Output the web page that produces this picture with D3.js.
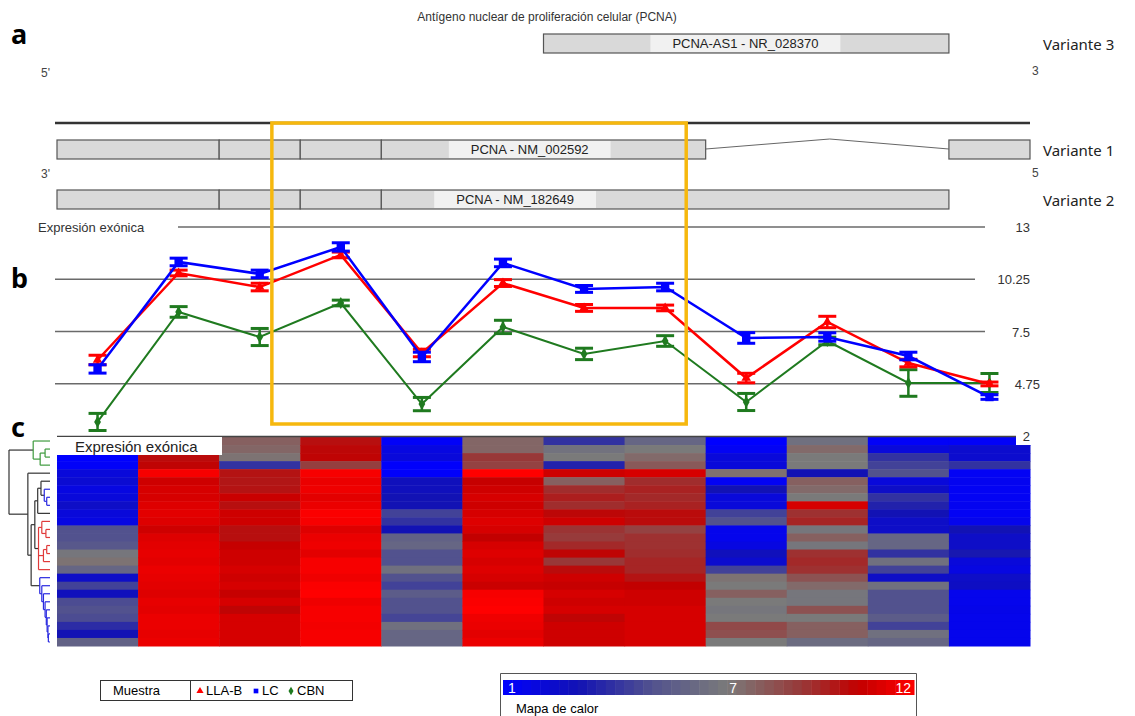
<!DOCTYPE html>
<html>
<head>
<meta charset="utf-8">
<script src="https://cdn.jsdelivr.net/npm/d3@7"></script>
<style>
  body { margin: 0; background: #fff; }
  svg { display: block; font-family: "Liberation Sans", Arial, sans-serif; }
</style>
</head>
<body>
<svg id="fig" width="1135" height="716"></svg>
<script>
//// DATA

const EXONS = ["E1","E2","E3","E4","E5","E6","E7","E8","E9","E10","E11","E12"];
const Y_TICKS = [13, 10.25, 7.5, 4.75, 2];

// expresion exonica por grupo (media y error)
const LC        = [5.53, 11.16, 10.53, 11.95, 6.16, 11.11, 9.74, 9.84, 7.16, 7.21, 6.21, 4.05];
const LC_ERR    = [0.22, 0.2, 0.2, 0.22, 0.25, 0.2, 0.18, 0.2, 0.28, 0.22, 0.2, 0.12];
const LLA_B     = [6.0, 10.58, 9.84, 11.53, 6.37, 10.05, 8.74, 8.74, 5.05, 8.0, 5.84, 4.74];
const LLA_B_ERR = [0.25, 0.15, 0.2, 0.15, 0.2, 0.18, 0.18, 0.15, 0.25, 0.3, 0.2, 0.1];
const CBN       = [2.74, 8.53, 7.21, 9.0, 3.68, 7.74, 6.32, 7.0, 3.79, 7.0, 4.79, 4.79];
const CBN_ERR   = [0.45, 0.28, 0.45, 0.15, 0.35, 0.35, 0.3, 0.28, 0.45, 0.2, 0.7, 0.5];

// mapa de calor: una lista por exon, 26 muestras (filas) cada una
const HEAT_E1  = [1.5,1.5,1.0,1.2,2,2.2,1.8,2,2.5,2,1.8,5,5,5.3,6.8,7.2,6,2.5,4.5,2.8,4.8,5,4.8,3.8,3,5.8];
const HEAT_E2  = [9.5,9.5,10.2,10.4,11.8,10.8,11,11,11.2,11.3,11.2,10.8,11.2,11.3,11.4,11.3,11.5,11.4,11.3,11.2,11.4,11.3,11.5,11.5,11.4,11.5];
const HEAT_E3  = [7.8,7.6,7.2,4,10,9.9,10,10.7,10.1,10.8,10.8,10.1,10.1,10.6,10.8,10.8,11,10.8,11,10.6,11,10.4,11,11,11,11];
const HEAT_E4  = [10.1,10.3,10.4,8.8,11.8,11.5,11.6,11.3,11.5,11.9,11.8,11.2,11.5,11.6,11.3,11.8,11.8,11.6,11.9,12,11.6,11.8,11.8,11.7,11.8,11.8];
const HEAT_E5  = [1.2,1.8,2,1.1,1.1,2.8,2.8,3,3,4.5,4,3,5.8,6,5,5,6.5,5,4.5,5.5,5,5,4.6,6.5,6,6];
const HEAT_E6  = [7.6,7.6,9,8.7,12,10.6,10.8,11,10.8,11,11.2,11,10.5,11,11.2,11,11.2,11,10.7,11.8,11.9,12,11.6,11.5,11.3,11.5];
const HEAT_E7  = [4,6.6,7,3.5,10.8,7.8,9.3,9.7,9.3,10.3,10.8,9.1,8.9,9.4,10.4,9,10.2,10.8,10.6,11,10.8,11,10.4,10.8,10.8,10.8];
const HEAT_E8  = [6,7,7.5,8,11,9.3,9.6,9.4,9.6,10.2,10.2,8.7,9.2,9.2,9.3,9.5,9.5,10,10.5,10.8,10.8,11,11,11,11,11];
const HEAT_E9  = [1,1.3,2,2,7.3,1.3,3,2,2,4.5,5,1.5,1.5,1.8,2.8,2.3,4.5,7.2,7,7.8,7,6.8,7,8.5,8.3,7];
const HEAT_E10 = [6.5,7.5,7,7,3,7.8,7.5,7,11,9.2,9.5,6.8,7.8,6.8,9.2,9.4,9.2,8.2,7.5,6.8,6.8,8.2,7,7.8,7.8,6.3];
const HEAT_E11 = [1.2,2,4,4.5,5,2,2.5,4,3.5,3,2.5,2.5,6,6,4,6.5,4.5,2.5,6.5,5,5,5,5.5,4.5,6.5,6];
const HEAT_E12 = [1.2,2.3,2.3,4,1.3,1.4,1.3,1.3,1.4,1.3,1.5,3,2.5,2.5,3.2,2,1.8,2.5,2.6,1.5,1.5,1.6,1.5,1.5,1.5,1.5];
const HEAT = [HEAT_E1,HEAT_E2,HEAT_E3,HEAT_E4,HEAT_E5,HEAT_E6,HEAT_E7,HEAT_E8,HEAT_E9,HEAT_E10,HEAT_E11,HEAT_E12];

// grupo de cada muestra (fila) y dendrograma (hojas = indice de fila, h = distancia)
const SAMPLE_GROUP = ["CBN","CBN","CBN","CBN","LC","LLA-B","LC","LC","LC","LLA-B",
  "LLA-B","LLA-B","LLA-B","LLA-B","LLA-B","LLA-B","LLA-B",
  "LC","LC","LC","LC","LC","LC","LC","LC","LC"];
const DENDRO = {h: 10, c: [
  {h: 4.1, c: [0, {h: 2.4, c: [{h: 1.2, c: [1, 2]}, 3]}]},
  {h: 5.4, c: [4, {h: 4.6, c: [
    {h: 3.7, c: [
      {h: 3.0, c: [{h: 2.2, c: [5, {h: 1.4, c: [6, {h: 0.8, c: [7, 8]}]}]}, 9]},
      {h: 2.8, c: [{h: 2.0, c: [10, {h: 1.0, c: [11, 12]}]}, {h: 1.6, c: [{h: 0.8, c: [13, 14]}, 15]}, 16]}
    ]},
    {h: 2.5, c: [17, {h: 2.0, c: [18, {h: 1.6, c: [19, {h: 1.2, c: [20, {h: 0.9, c: [21,
      {h: 0.7, c: [22, {h: 0.5, c: [23, {h: 0.4, c: [24, 25]}]}]}]}]}]}]}]}
  ]}]}
]};

// modelo genico en unidades de exon (0..12)
const VAR1_EXONS = [[0,2],[2,3],[3,4],[4,8],[11,12]];
const VAR1_INTRON = [8, 9.53, 11];
const VAR2_EXONS = [[0,2],[2,3],[3,4],[4,11]];
const VAR3_EXONS = [[6,11]];
const HEAT_LEGEND_TICKS = [1, 7, 12];

//// LAYOUT

const GROUP_COLORS = {"LLA-B": "#ff0000", "LC": "#0000ff", "CBN": "#1f7a1f"};
const DENDRO_COLORS = {"LLA-B": "#e03a3a", "LC": "#2a2ae0", "CBN": "#3e9a3e"};
const LEFT = 57, RIGHT = 1030;

const heatColor = d3.scaleLinear()
  .domain([1, 3, 5, 7, 9, 10.5, 12])
  .range(["#0000ff", "#1212b4", "#52528e", "#7a7a7a", "#983838", "#c20000", "#ff0000"])
  .clamp(true);

const svg = d3.select("#fig");
const xBand = d3.scaleBand().domain(EXONS).range([LEFT, RIGHT]);
const gx = d3.scaleLinear().domain([0, 12]).range([LEFT, RIGHT]);
const y = d3.scaleLinear().domain([2, 13]).range([436, 227]);
const rowY = d3.scaleBand().domain(d3.range(26)).range([437, 646]);

const panelLetter = (txt, ly) => svg.append("text")
  .attr("x", 11).attr("y", ly)
  .style("font-family", "'Noto Sans', sans-serif")
  .style("font-weight", "bold").style("font-size", "27px")
  .text(txt);

//////////////// a: MODELO GENICO

const renderGeneModel = () => {
  const g = svg.append("g");
  g.append("text").attr("x", 547).attr("y", 21).attr("text-anchor", "middle")
    .style("font-size", "12px").attr("fill", "#333")
    .text("Antígeno nuclear de proliferación celular (PCNA)");

  const drawTranscript = (exons, top, label, labelPos, name) => {
    const h = 19;
    g.selectAll(null).data(exons).enter().append("rect")
      .attr("x", d => gx(d[0])).attr("y", top)
      .attr("width", d => gx(d[1]) - gx(d[0])).attr("height", h)
      .attr("fill", "#d9d9d9").attr("stroke", "#555").attr("stroke-width", 1.2);
    const t = g.append("text").attr("x", gx(labelPos)).attr("y", top + 14)
      .attr("text-anchor", "middle").style("font-size", "13px").attr("fill", "#222")
      .text(label);
    const bb = t.node().getBBox();
    g.insert("rect", () => t.node())
      .attr("x", bb.x - 22).attr("y", top + 1).attr("width", bb.width + 44).attr("height", h - 2)
      .attr("fill", "#f1f1f1");
    g.append("text").attr("x", 1043).attr("y", top + 16)
      .style("font-family", "'Noto Sans', sans-serif").style("font-size", "15px").attr("fill", "#222")
      .text(name);
  };

  drawTranscript(VAR3_EXONS, 34, "PCNA-AS1 - NR_028370", 8.49, "Variante 3");

  g.append("line").attr("x1", 55).attr("x2", RIGHT).attr("y1", 123).attr("y2", 123)
    .attr("stroke", "#333").attr("stroke-width", 2.5);

  g.append("polyline")
    .attr("points", [[gx(VAR1_INTRON[0]), 149], [gx(VAR1_INTRON[1]), 139], [gx(VAR1_INTRON[2]), 149]].join(" "))
    .attr("fill", "none").attr("stroke", "#666").attr("stroke-width", 1);
  drawTranscript(VAR1_EXONS, 140, "PCNA - NM_002592", 5.83, "Variante 1");
  drawTranscript(VAR2_EXONS, 190, "PCNA - NM_182649", 5.65, "Variante 2");

  [["5'", 41, 77], ["3", 1032, 75], ["3'", 41, 178], ["5", 1032, 177]].forEach(([t, tx, ty]) => {
    g.append("text").attr("x", tx).attr("y", ty).style("font-size", "12px").attr("fill", "#444").text(t);
  });
};

//////////////// b: EXPRESION EXONICA

const renderLines = () => {
  const g = svg.append("g");
  Y_TICKS.forEach(v => {
    if (v === 2) return;
    const x1 = v === 13 ? 178 : 55;
    g.append("line").attr("x1", x1).attr("x2", v === 10.25 ? 975 : 985)
      .attr("y1", y(v)).attr("y2", y(v)).attr("stroke", "#6a6a6a").attr("stroke-width", 1.6);
  });
  // fondo blanco del "2" sobre el mapa de calor
  g.append("rect").attr("x", 1016).attr("y", y(2) - 8).attr("width", 17).attr("height", 17).attr("fill", "#fff");
  g.selectAll(".tick-label").data(Y_TICKS).enter().append("text")
    .attr("class", "tick-label")
    .attr("x", d => d === 4.75 ? 1040 : 1030).attr("y", d => y(d) + 5)
    .attr("text-anchor", "end").style("font-size", "13px").attr("fill", "#333")
    .text(d => d);
  g.append("text").attr("x", 38).attr("y", y(13) + 5).style("font-size", "13px").attr("fill", "#333")
    .text("Expresión exónica");

  const cx = i => xBand(EXONS[i]) + xBand.bandwidth() / 2;
  const series = [
    {name: "CBN", v: CBN, e: CBN_ERR, sym: d3.symbolDiamond, w: 2},
    {name: "LLA-B", v: LLA_B, e: LLA_B_ERR, sym: d3.symbolTriangle, w: 2.5},
    {name: "LC", v: LC, e: LC_ERR, sym: d3.symbolSquare, w: 2.5}
  ];
  const line = d3.line().x((d, i) => cx(i)).y(d => y(d));
  series.forEach(s => {
    const col = GROUP_COLORS[s.name];
    const sg = g.append("g");
    sg.append("path").datum(s.v).attr("d", line)
      .attr("fill", "none").attr("stroke", col).attr("stroke-width", s.w);
    const bars = sg.selectAll(null).data(s.v).enter().append("g");
    bars.append("line").attr("x1", (d, i) => cx(i)).attr("x2", (d, i) => cx(i))
      .attr("y1", (d, i) => y(d + s.e[i])).attr("y2", (d, i) => y(d - s.e[i]))
      .attr("stroke", col).attr("stroke-width", 2.5);
    [1, -1].forEach(sign => {
      bars.append("line").attr("x1", (d, i) => cx(i) - 9).attr("x2", (d, i) => cx(i) + 9)
        .attr("y1", (d, i) => y(d + sign * s.e[i])).attr("y2", (d, i) => y(d + sign * s.e[i]))
        .attr("stroke", col).attr("stroke-width", 3);
    });
    bars.append("path").attr("d", d3.symbol().type(s.sym).size(s.name === "LC" ? 70 : 40))
      .attr("transform", (d, i) => `translate(${cx(i)},${y(d)})`)
      .attr("fill", col);
  });
};

//////////////// c: MAPA DE CALOR Y DENDROGRAMA

const renderHeatmap = () => {
  const g = svg.append("g");
  const cells = [];
  HEAT.forEach((col, ci) => col.forEach((v, ri) => cells.push({ci, ri, v})));
  g.selectAll(null).data(cells).enter().append("rect")
    .attr("x", d => xBand(EXONS[d.ci])).attr("y", d => rowY(d.ri))
    .attr("width", xBand.bandwidth() + 0.5).attr("height", rowY.bandwidth() + 0.5)
    .attr("fill", d => heatColor(d.v));
  g.append("line").attr("x1", LEFT).attr("x2", RIGHT).attr("y1", 436.5).attr("y2", 436.5)
    .attr("stroke", "#444").attr("stroke-width", 1.5);

  g.append("rect").attr("x", LEFT).attr("y", 437).attr("width", 165).attr("height", 18).attr("fill", "#fff");
  g.append("text").attr("x", 75).attr("y", 452).style("font-size", "15px").attr("fill", "#222")
    .text("Expresión exónica");

  // dendrograma
  const root = d3.hierarchy(DENDRO, d => d.c);
  const hx = d3.scaleLinear().domain([0, 10]).range([50, 9]);
  root.eachAfter(n => {
    if (!n.children) {
      n.py = rowY(n.data) + rowY.bandwidth() / 2;
      n.px = hx(0);
      n.grp = SAMPLE_GROUP[n.data];
    } else {
      n.py = (n.children[0].py + n.children[n.children.length - 1].py) / 2;
      n.px = hx(n.data.h);
      const gs = new Set(n.children.map(c => c.grp));
      n.grp = gs.size === 1 && !gs.has(null) ? n.children[0].grp : null;
    }
  });
  const dg = g.append("g").attr("fill", "none").attr("stroke-width", 1.2);
  root.descendants().filter(n => n.children).forEach(n => {
    const col = n.grp ? DENDRO_COLORS[n.grp] : "#333";
    const ys = n.children.map(c => c.py);
    dg.append("line").attr("x1", n.px).attr("x2", n.px)
      .attr("y1", d3.min(ys)).attr("y2", d3.max(ys)).attr("stroke", col);
    n.children.forEach(c => {
      dg.append("line").attr("x1", n.px).attr("x2", c.px).attr("y1", c.py).attr("y2", c.py)
        .attr("stroke", col);
    });
  });
};

//////////////// LEYENDAS

const renderLegends = () => {
  const g = svg.append("g").style("font-family", "'Liberation Sans Narrow', 'Liberation Sans', sans-serif");
  g.append("rect").attr("x", 100.5).attr("y", 680.5).attr("width", 252).attr("height", 20)
    .attr("fill", "#fff").attr("stroke", "#333");
  g.append("line").attr("x1", 190.5).attr("x2", 190.5).attr("y1", 680.5).attr("y2", 700.5).attr("stroke", "#333");
  g.append("text").attr("x", 113).attr("y", 695).style("font-size", "13px").text("Muestra");
  const items = [
    {name: "LLA-B", sym: d3.symbolTriangle, x: 200},
    {name: "LC", sym: d3.symbolSquare, x: 256},
    {name: "CBN", sym: d3.symbolDiamond, x: 291}
  ];
  items.forEach(it => {
    g.append("path").attr("d", d3.symbol().type(it.sym).size(22))
      .attr("transform", `translate(${it.x},${691})`).attr("fill", GROUP_COLORS[it.name]);
    g.append("text").attr("x", it.x + 6).attr("y", 695).style("font-size", "13px").text(it.name);
  });

  // escala de color
  g.append("path").attr("d", "M500.5,716 V673.5 H916.5 V716").attr("fill", "none").attr("stroke", "#555");
  const lx = d3.scaleLinear().domain([1, 12]).range([503, 914]);
  const steps = d3.range(1, 12, 0.25);
  g.selectAll(null).data(steps).enter().append("rect")
    .attr("x", d => lx(d)).attr("y", 680)
    .attr("width", d => lx(Math.min(12, d + 0.25)) - lx(d) + 0.5).attr("height", 15)
    .attr("fill", d => heatColor(d + 0.125));
  g.selectAll(null).data(HEAT_LEGEND_TICKS).enter().append("text")
    .attr("x", d => d === 1 ? lx(d) + 5 : d === 12 ? lx(d) - 3 : lx(d) + 2)
    .attr("y", 693)
    .attr("text-anchor", d => d === 12 ? "end" : "start")
    .style("font-size", "14px").attr("fill", "#fff").text(d => d);
  g.append("text").attr("x", 516).attr("y", 713).style("font-size", "13px").text("Mapa de calor");
};

(function () {
  renderGeneModel();
  renderHeatmap();
  renderLines();
  renderLegends();
  // recuadro de resalte (exones 3-8)
  svg.append("rect")
    .attr("x", gx(2.65)).attr("y", 123).attr("width", gx(7.76) - gx(2.65)).attr("height", 301)
    .attr("fill", "none").attr("stroke", "#f6b80e").attr("stroke-width", 3.5);
  panelLetter("a", 44);
  panelLetter("b", 288);
  panelLetter("c", 437);
})();
</script>
</body>
</html>
